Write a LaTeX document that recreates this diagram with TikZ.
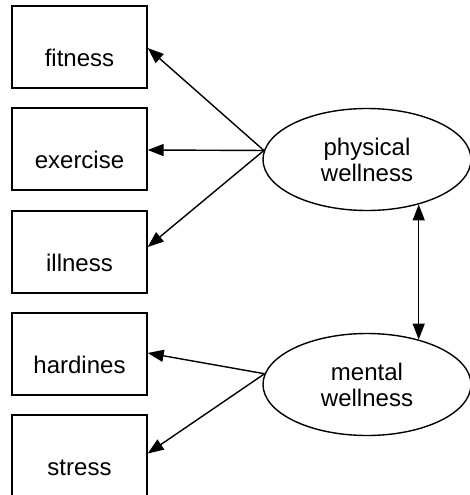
\documentclass[tikz,border=0pt]{standalone}
\usepackage{fontspec}
\setmainfont{Liberation Sans}
\usetikzlibrary{arrows.meta,shapes.geometric}
\begin{document}
\begin{tikzpicture}[x=1pt,y=-1pt,
  every node/.style={font=\fontsize{24}{26}\selectfont},
  obs/.style={draw, line width=1.4pt, rectangle, minimum width=135pt, minimum height=82pt,
    inner sep=0pt, text height=39pt, text depth=0pt},
  lat/.style={draw, line width=1.4pt, ellipse, minimum width=208pt, minimum height=102pt,
    inner sep=0pt, align=center},
  path/.style={line width=1.4pt, -{Triangle[length=16pt,width=12pt]}},
  cov/.style={line width=1.4pt, {Triangle[length=16pt,width=12pt]}-{Triangle[length=16pt,width=12pt]}}
]
\useasboundingbox (0,0) rectangle (469,495);
\node[obs] (fit) at (79.5,47) {fitness};
\node[obs] (exe) at (79.5,149) {exercise};
\node[obs] (ill) at (79.5,252) {illness};
\node[obs] (har) at (79.5,354) {hardines};
\node[obs] (str) at (79.5,456) {stress};
\node[lat] (phy) at (367,159.5) {physical\\wellness};
\node[lat] (men) at (367,384.5) {mental\\wellness};
\draw[path] (phy.175) -- ([yshift=-1pt]fit.east);
\draw[path] (phy.175) -- ([yshift=-1pt]exe.east);
\draw[path] (phy.175) -- ([yshift=5pt]ill.east);
\draw[path] (men.174) -- ([yshift=1pt]har.east);
\draw[path] (men.174) -- ([yshift=2.5pt]str.east);
\draw[cov] (phy.-41) -- (men.41);
\end{tikzpicture}
\end{document}
